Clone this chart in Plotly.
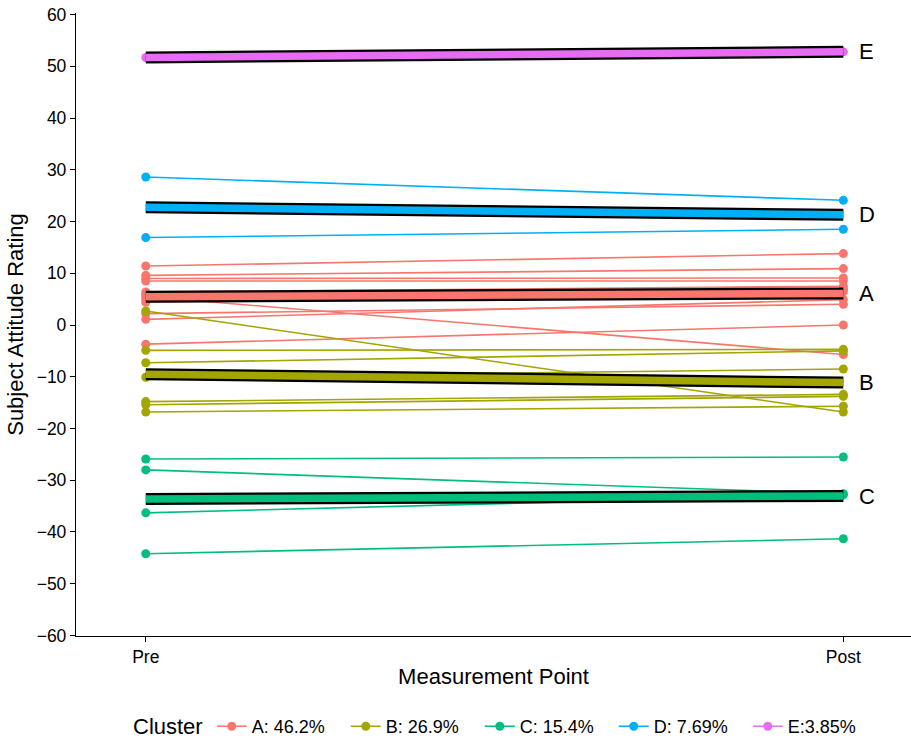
import numpy as np
import plotly.graph_objects as go

# ---- data ----
time_points = ["Pre", "Post"]
cluster_names = ["A", "B", "C", "D", "E"]
legend_labels = ["A: 46.2%", "B: 26.9%", "C: 15.4%", "D: 7.69%", "E:3.85%"]
colors = ["#F8766D", "#A3A500", "#00BF7D", "#00B0F6", "#E76BF3"]

A_pre = [11.4, 9.6, 9.0, 8.5, 6.4, 6.0, 5.5, 5.0, 4.4, 2.2, 1.1, -3.7]
A_post = [13.8, 10.9, 9.1, 8.5, 7.5, 7.0, -5.7, 6.8, 6.4, 4.0, 4.9, 0.0]

B_pre = [2.7, -4.9, -7.3, -10.1, -14.8, -15.4, -16.8]
B_post = [-16.8, -4.7, -5.0, -8.5, -13.4, -13.8, -15.7]

C_pre = [-25.9, -28.0, -36.3, -44.2]
C_post = [-25.5, -32.6, -32.8, -41.3]

D_pre = [28.6, 16.9]
D_post = [24.1, 18.5]

E_pre = [51.7]
E_post = [52.8]

pre_values = [A_pre, B_pre, C_pre, D_pre, E_pre]
post_values = [A_post, B_post, C_post, D_post, E_post]

y_ticks = list(range(-60, 61, 10))

FONT = "Liberation Sans, Arial, Helvetica, sans-serif"
xpos = {"Pre": 1, "Post": 2}

fig = go.Figure()

# individual trajectories
for name, lab, col, pre, post in zip(cluster_names, legend_labels, colors, pre_values, post_values):
    xs, ys = [], []
    for a, b in zip(pre, post):
        xs += [xpos["Pre"], xpos["Post"], None]
        ys += [a, b, None]
    fig.add_trace(go.Scatter(
        x=xs, y=ys, mode="lines+markers", name=lab,
        line=dict(color=col, width=1.6),
        marker=dict(color=col, size=9),
        showlegend=True, legendgroup=name,
    ))

# cluster mean trajectories
for name, col, pre, post in zip(cluster_names, colors, pre_values, post_values):
    m = [float(np.mean(pre)), float(np.mean(post))]
    fig.add_trace(go.Scatter(x=[1, 2], y=m, mode="lines",
                             line=dict(color="black", width=12),
                             showlegend=False, hoverinfo="skip"))
    fig.add_trace(go.Scatter(x=[1, 2], y=m, mode="lines",
                             line=dict(color=col, width=7.5),
                             showlegend=False, hoverinfo="skip"))
    fig.add_annotation(x=2.02, y=m[1], text=name, showarrow=False,
                       xanchor="left", yanchor="middle",
                       font=dict(family=FONT, size=22, color="black"))

# legend title as free text
fig.add_annotation(xref="paper", yref="paper", x=0.066, y=-0.1453, text="Cluster",
                   showarrow=False, xanchor="left", yanchor="middle",
                   font=dict(family=FONT, size=22, color="black"))

fig.update_layout(
    width=911, height=740,
    margin=dict(l=76, r=0, t=13, b=104, autoexpand=False),
    paper_bgcolor="white", plot_bgcolor="white",
    font=dict(family=FONT, color="black"),
    showlegend=True,
    legend=dict(
        orientation="h", x=0.1626, xanchor="left", y=-0.1453, yanchor="middle",
        font=dict(size=18, family=FONT, color="black"),
        itemwidth=30, entrywidth=89, entrywidthmode="pixels",
    ),
)

fig.update_xaxes(
    range=[0.9, 2.097], tickvals=[1, 2], ticktext=time_points,
    showgrid=False, zeroline=False, showline=True, linecolor="black", linewidth=1.3,
    ticks="outside", ticklen=5, tickcolor="black", tickwidth=1.1, automargin=False,
    tickfont=dict(size=17.5, family=FONT, color="black"),
    title=dict(text="Measurement Point", font=dict(size=22, family=FONT, color="black"), standoff=2),
)
fig.update_yaxes(
    range=[-60.1, 60.3], tickvals=y_ticks, ticktext=[str(v).replace("-", "\u2212") for v in y_ticks],
    showgrid=False, zeroline=False, showline=True, linecolor="black", linewidth=1.3,
    ticks="outside", ticklen=5, tickcolor="black", tickwidth=1.1, automargin=False,
    tickfont=dict(size=17.5, family=FONT, color="black"),
    title=dict(text="Subject Attitude Rating", font=dict(size=22, family=FONT, color="black"), standoff=6),
)

fig.write_html("out.html",
               config={"displayModeBar": False},
               post_script="document.body.style.margin='0px';document.body.style.overflow='hidden';")
